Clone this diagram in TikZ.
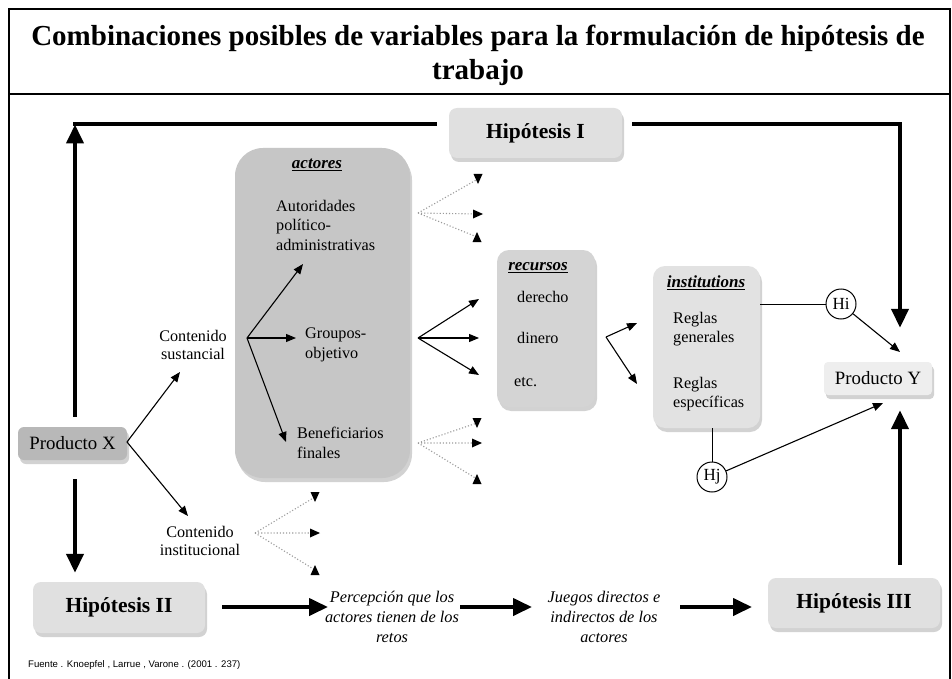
\documentclass[tikz,border=0pt]{standalone}
\usepackage{fontspec}
\setmainfont{Liberation Serif}
\newfontfamily\citefont{Liberation Sans}
\usetikzlibrary{arrows.meta,shadows,calc}
\definecolor{actfill}{HTML}{C6C6C6}
\definecolor{recfill}{HTML}{D4D4D4}
\definecolor{insfill}{HTML}{E2E2E2}
\definecolor{hypfill}{HTML}{E0E0E0}
\definecolor{pxfill}{HTML}{B8B8B8}
\definecolor{pyfill}{HTML}{EEEEEE}
\definecolor{dotgray}{HTML}{9A9A9A}
\begin{document}
\begin{tikzpicture}[x=1pt,y=-1pt,
  shad/.style={drop shadow={opacity=0.35,shadow xshift=2pt,shadow yshift=-4pt}},
  hyp/.style={fill=hypfill,rounded corners=8,shad,inner sep=0,
    font=\fontsize{21.5}{25}\selectfont\bfseries},
  gbox/.style={rounded corners=12,shad,inner sep=0},
  body/.style={font=\fontsize{16.2}{19.5}\selectfont,align=left,inner sep=0},
  ctext/.style={font=\fontsize{16.2}{18.5}\selectfont,align=center,inner sep=0},
  itext/.style={font=\fontsize{16.3}{20}\selectfont\itshape,align=center,inner sep=0},
  head/.style={font=\fontsize{17}{20}\selectfont\bfseries\itshape,inner sep=0},
  circ/.style={circle,draw,line width=1pt,minimum size=30,inner sep=0,fill=white,
    font=\fontsize{17}{18}\selectfont},
  thickarr/.style={line width=4pt,-{Triangle[width=17pt,length=19pt]}},
  thickline/.style={line width=4pt,line cap=rect},
  thinarr/.style={line width=1.1pt,-{Triangle[width=8pt,length=10pt]}},
  dotline/.style={dotgray,line width=1.1pt,dotted},
  tdn/.pic={\fill (-4.5,-5) -- (4.5,-5) -- (0,5) -- cycle;},
  tup/.pic={\fill (-4.5,5) -- (4.5,5) -- (0,-5) -- cycle;},
  trt/.pic={\fill (-5,-4.5) -- (-5,4.5) -- (5,0) -- cycle;}
]
\useasboundingbox (0,0) rectangle (952,679);
\fill[white] (0,0) rectangle (952,679);
% frame
\draw[line width=1.3pt] (9,679) -- (9,9) -- (950,9) -- (950,679);
\draw[line width=1.8pt] (9,94) -- (950,94);
\node[font=\fontsize{29}{34}\selectfont\bfseries,align=center,inner sep=0] (title) at (478,55)
  {Combinaciones posibles de variables para la formulación de hipótesis de\\trabajo};

% boxes
\node[fill=actfill,rounded corners=28,shad,minimum width=175,minimum height=330,inner sep=0] (act) at (322.5,313) {};
\node[fill=recfill,gbox,minimum width=98,minimum height=157] (rec) at (546,328.5) {};
\node[fill=insfill,gbox,minimum width=107,minimum height=162] (ins) at (706.5,347) {};

\node[hyp,minimum width=173,minimum height=50] (h1) at (535.5,133) {Hipótesis I};
\node[hyp,minimum width=172,minimum height=51] (h2) at (119,607.5) {Hipótesis II};
\node[hyp,minimum width=172,minimum height=50] (h3) at (854,603) {Hipótesis III};
\node[fill=pxfill,rounded corners=6,shad,minimum width=109,minimum height=33,inner sep=0,
  font=\fontsize{18.8}{20}\selectfont] (px) at (72.5,443.5) {Producto X};
\node[fill=pyfill,rounded corners=4,shad,minimum width=108,minimum height=33,inner sep=0,
  font=\fontsize{18.8}{20}\selectfont] (py) at (878,378.5) {Producto Y};

% headers
\node[head] (acth) at (317,165) {\underline{actores}};
\node[head] (rech) at (538,268) {\underline{recursos}};
\node[head] (insh) at (706,283) {\underline{institutions}};

% texts
\node[body,anchor=west] (aut) at (276,225) {Autoridades\\político-\\administrativas};
\node[body,anchor=west] (gru) at (305,345) {Groupos-\\objetivo};
\node[body,anchor=west] (ben) at (297,443) {Beneficiarios\\finales};
\node[body,anchor=west] (der) at (517,297) {derecho};
\node[body,anchor=west] (din) at (517,338) {dinero};
\node[body,anchor=west] (etc) at (514,382) {etc.};
\node[body,anchor=west] (rg) at (673,329) {Reglas\\generales};
\node[body,anchor=west] (re) at (673,394) {Reglas\\específicas};
\node[ctext] (csus) at (193,345) {Contenido\\sustancial};
\node[ctext] (cins) at (200,541) {Contenido\\institucional};
\node[itext] (perc) at (392,617) {Percepción que los\\actores tienen de los\\retos};
\node[itext] (jue) at (604,617) {Juegos directos e\\indirectos de los\\actores};
\node[circ] (hi) at (841,304) {Hi};
\node[circ] (hj) at (712,477) {Hj};
\node[font=\citefont\fontsize{9.6}{11}\selectfont,anchor=west,inner sep=0] (cite) at (28,665)
  {Fuente . Knoepfel , Larrue , Varone . (2001 . 237)};

% thick connectors
\coordinate (tl) at (75,124.5);
\coordinate (h1l) at (435,124.5);
\coordinate (h1r) at (632,124.5);
\coordinate (tr) at (900,124.5);
\coordinate (b1s) at (222,607);
\coordinate (b1e) at (328,607);
\coordinate (b2s) at (460,607);
\coordinate (b2e) at (532,607);
\coordinate (b3s) at (680,607);
\coordinate (b3e) at (752,607);
\draw[thickline] (h1l) -- (tl);
\draw[thickarr,shorten <=10pt] (px.north -| tl) -- (tl);
\draw[thickarr,shorten >=34pt,line join=miter] (h1r) -- (tr) -- (py.north -| tr);
\draw[thickarr,shorten <=13pt,shorten >=15pt] (h3.north -| tr) -- (py.south -| tr);
\draw[thickarr,shorten <=19pt,shorten >=9pt] (px.south -| tl) -- (h2.north -| tl);
\draw[thickarr] (b1s) -- (b1e);
\draw[thickarr] (b2s) -- (b2e);
\draw[thickarr] (b3s) -- (b3e);

% thin connectors
\coordinate (pxe) at (127,442);
\coordinate (tcs) at (180,372);
\coordinate (tci) at (188,516);
\draw[thinarr] (pxe) -- (tcs);
\draw[thinarr] (pxe) -- (tci);
\coordinate (fa) at (247,338);
\coordinate (taut) at (303,264);
\coordinate (tgru) at (296,338);
\coordinate (tben) at (286,442);
\draw[thinarr] (fa) -- (taut);
\draw[thinarr] (fa) -- (tgru);
\draw[thinarr] (fa) -- (tben);
\coordinate (fg) at (418,338);
\coordinate (tr1) at (479,299);
\coordinate (tr2) at (479,338);
\coordinate (tr3) at (479,375);
\draw[thinarr] (fg) -- (tr1);
\draw[thinarr] (fg) -- (tr2);
\draw[thinarr] (fg) -- (tr3);
\coordinate (fr) at (606,337);
\coordinate (ti1) at (637,323);
\coordinate (ti2) at (637,384);
\draw[thinarr] (fr) -- (ti1);
\draw[thinarr] (fr) -- (ti2);
\draw[line width=1pt] (ins.east |- hi) -- (hi);
\draw[line width=1pt] (hj) -- (hj |- ins.south);
\coordinate (tpy1) at (900,352);
\coordinate (tpy2) at (883,403);
\draw[thinarr] (hi) -- (tpy1);
\draw[thinarr] (hj) -- (tpy2);

% dotted forks
\coordinate (fd1) at (418,213);
\coordinate (d11) at (478,179);
\coordinate (d12) at (478,214);
\coordinate (d13) at (477,237);
\draw[dotline] (fd1) -- (d11) (fd1) -- (d12) (fd1) -- (d13);
\pic at (d11) {tdn}; \pic at (d12) {trt}; \pic at (d13) {tup};
\coordinate (fd2) at (418,443);
\coordinate (d21) at (477,423);
\coordinate (d22) at (477,443);
\coordinate (d23) at (477,479);
\draw[dotline] (fd2) -- (d21) (fd2) -- (d22) (fd2) -- (d23);
\pic at (d21) {tdn}; \pic at (d22) {trt}; \pic at (d23) {tup};
\coordinate (fd3) at (255,533);
\coordinate (d31) at (315,497);
\coordinate (d32) at (315,533);
\coordinate (d33) at (315,570);
\draw[dotline] (fd3) -- (d31) (fd3) -- (d32) (fd3) -- (d33);
\pic at (d31) {tdn}; \pic at (d32) {trt}; \pic at (d33) {tup};
\end{tikzpicture}
\end{document}
